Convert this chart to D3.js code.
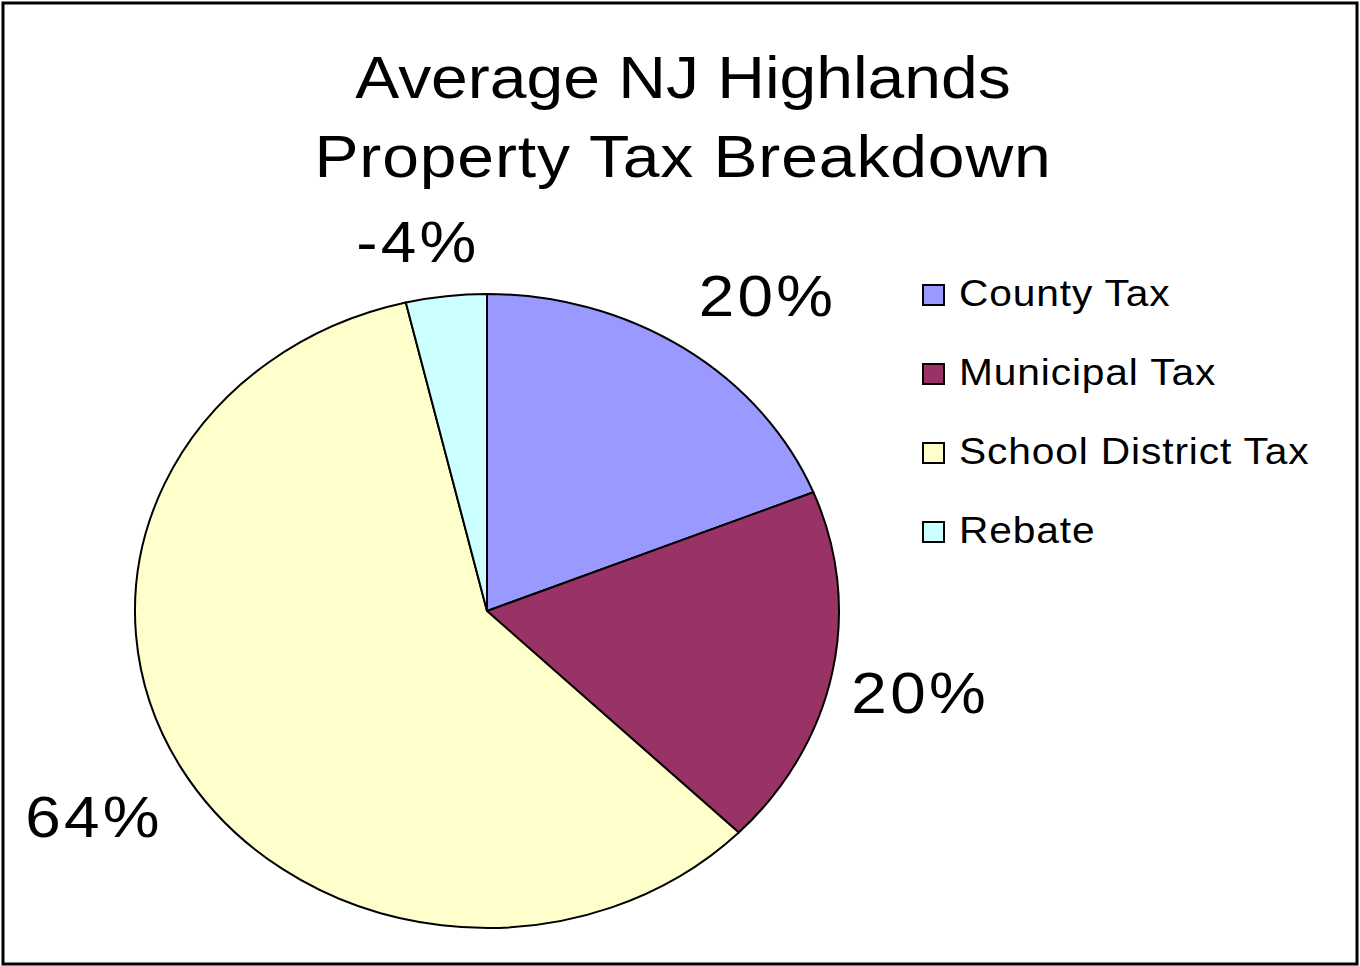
<!DOCTYPE html>
<html lang="en">
<head>
  <meta charset="utf-8">
  <title>Average NJ Highlands Property Tax Breakdown</title>
  <style>
    body{
        margin: 0;
        background-color: #fff;
    }
    svg text{
        font-family: "Liberation Sans", Arial, sans-serif;
        fill: #000;
    }
  </style>
  <script src="https://d3js.org/d3.v7.min.js"></script>
</head>
<body>
<script>

    const categories = ["County Tax", "Municipal Tax", "School District Tax", "Rebate"]
    const values = [20.4, 19.9, 63.7, -4.0]
    const colors = ["#9999FF", "#993366", "#FFFFCC", "#CCFFFF"]
    const titleLines = ["Average NJ Highlands", "Property Tax Breakdown"]

    let width = 1360
    let height = 966
    let cx = 487
    let cy = 611
    let ry = 317
    let rx = 352
    let stretch = rx / ry
    // the original chart is a bit wider than tall, text included
    let textStretch = 1.1

    let svg = d3.select('body')
                .append('svg')
                .attr('width', width)
                .attr('height', height)

    svg.append('rect')
        .attr('x', 3)
        .attr('y', 3)
        .attr('width', width - 6)
        .attr('height', height - 5)
        .attr('fill', '#fff')
        .attr('stroke', '#000')
        .attr('stroke-width', 3)

    svg.selectAll('.title')
        .data(titleLines)
        .enter()
        .append('text')
        .attr('class', 'title')
        .attr('transform', (d, i) => `translate(683, ${98 + i * 79}) scale(${textStretch}, 1)`)
        .attr('text-anchor', 'middle')
        .attr('font-size', 60)
        .attr('letter-spacing', (d, i) => i * 0.8)
        .text((d) => d)

    // excel draws the negative value by its size
    let pie = d3.pie()
                .value((d) => Math.abs(d))
                .sort(null)

    let arcs = pie(values)

    let arc = d3.arc()
                .innerRadius(0)
                .outerRadius(ry)

    let pieG = svg.append('g')
                  .attr('transform', `translate(${cx}, ${cy}) scale(${stretch}, 1)`)

    pieG.selectAll('path')
        .data(arcs)
        .enter()
        .append('path')
        .attr('d', arc)
        .attr('fill', (d, i) => colors[i])
        .attr('stroke', '#000')
        .attr('stroke-width', 2)
        .attr('vector-effect', 'non-scaling-stroke')

    // outside end: the label box sits just off the rim at the mid angle
    let clamp = (v) => Math.max(-1, Math.min(1, v))
    let labelPos = (d) => {
        let a = (d.startAngle + d.endAngle) / 2
        let px = cx + Math.sin(a) * (rx + 10)
        let py = cy - Math.cos(a) * (ry + 10)
        return [px + 78 * clamp(3 * Math.sin(a)), py - 45 * clamp(2 * Math.cos(a))]
    }

    svg.selectAll('.label')
        .data(arcs)
        .enter()
        .append('text')
        .attr('class', 'label')
        .attr('transform', (d) => `translate(${labelPos(d)}) scale(${textStretch}, 1)`)
        .attr('dy', '0.36em')
        .attr('text-anchor', 'middle')
        .attr('font-size', 58)
        .attr('letter-spacing', 3)
        .text((d) => Math.round(d.data) + '%')

    let legend = svg.append('g')
                    .attr('transform', 'translate(922, 293)')

    let rows = legend.selectAll('g')
                     .data(categories)
                     .enter()
                     .append('g')
                     .attr('transform', (d, i) => `translate(0, ${i * 79})`)

    rows.append('rect')
        .attr('x', 1)
        .attr('y', -8)
        .attr('width', 21)
        .attr('height', 20)
        .attr('fill', (d, i) => colors[i])
        .attr('stroke', '#000')
        .attr('stroke-width', 2)

    rows.append('text')
        .attr('transform', `translate(37, 13) scale(${textStretch}, 1)`)
        .attr('font-size', 37)
        .attr('letter-spacing', 0.8)
        .text((d) => d)

</script>
</body>
</html>
